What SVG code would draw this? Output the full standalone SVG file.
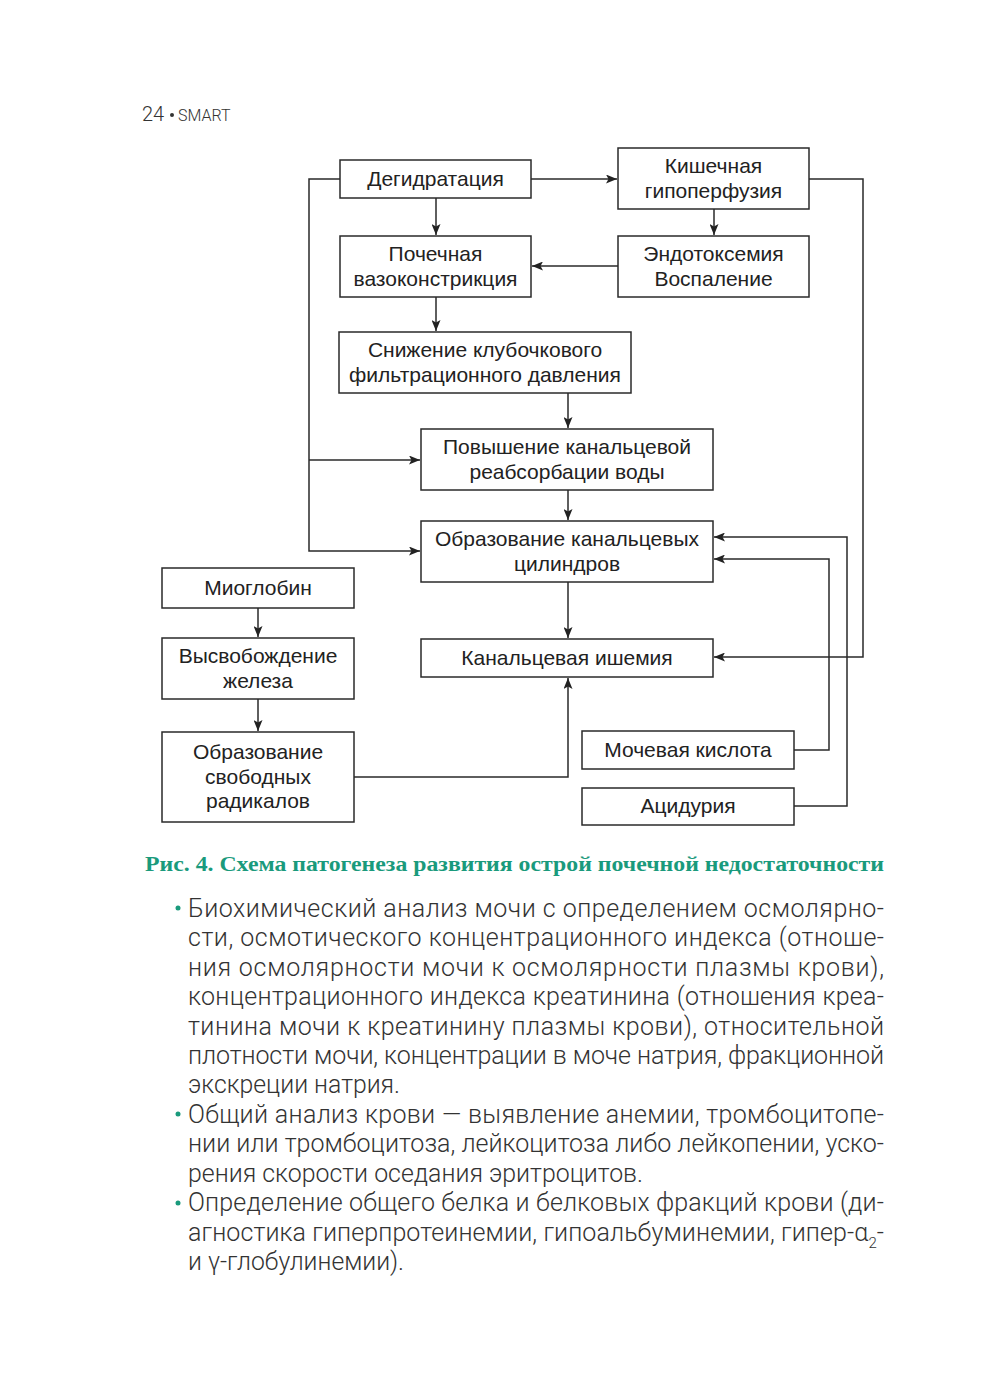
<svg xmlns="http://www.w3.org/2000/svg" width="1000" height="1393" viewBox="0 0 1000 1393">
<defs>
<marker id="ah" viewBox="0 0 11 9" refX="11" refY="4.5" markerWidth="11" markerHeight="9" markerUnits="userSpaceOnUse" orient="auto">
<path d="M0,0 L11,4.5 L0,9 L2.5,4.5 Z" fill="#222"/>
</marker>
</defs>
<style>
.box{fill:#fff;stroke:#2a2a2a;stroke-width:1.5}
.t{font-family:"Liberation Sans",Arial,sans-serif;font-size:21px;fill:#222;text-anchor:middle}
.c{fill:none;stroke:#2a2a2a;stroke-width:1.5}
.a{marker-end:url(#ah)}
.body{font-family:Roboto,"Noto Sans",sans-serif;font-weight:300;font-size:25px;fill:#333}
.bul{fill:#1a9a7c}
</style>
<rect width="1000" height="1393" fill="#fff"/>
<g id="header">
<text x="142" y="121" font-family="Roboto,sans-serif" font-weight="300" font-size="20" fill="#333">24</text>
<circle cx="172" cy="115" r="2" fill="#333"/>
<text x="178" y="121" font-family="Roboto,sans-serif" font-weight="300" font-size="16" fill="#333">SMART</text>
</g>
<g id="connectors">
<path class="c a" d="M531,179 H617"/>
<path class="c a" d="M436,198 V235"/>
<path class="c a" d="M714,209 V235"/>
<path class="c a" d="M618,266 H532"/>
<path class="c a" d="M436,297 V331"/>
<path class="c a" d="M568,393 V428"/>
<path class="c a" d="M568,490 V520"/>
<path class="c a" d="M568,582 V638"/>
<path class="c a" d="M340,179 H309 V551 H420"/>
<path class="c a" d="M309,460 H420"/>
<path class="c a" d="M809,179 H863 V657 H714"/>
<path class="c a" d="M794,806 H847 V537 H714"/>
<path class="c a" d="M794,750 H829 V559 H714"/>
<path class="c a" d="M258,608 V637"/>
<path class="c a" d="M258,699 V731"/>
<path class="c a" d="M354,777 H568 V678"/>
</g>
<g id="n1"><rect class="box" x="340" y="160" width="191" height="38"/><text class="t" x="435.5" y="186">Дегидратация</text></g>
<g id="n2"><rect class="box" x="618" y="148" width="191" height="61"/><text class="t" x="713.5" y="173">Кишечная</text><text class="t" x="713.5" y="198">гипоперфузия</text></g>
<g id="n3"><rect class="box" x="340" y="236" width="191" height="61"/><text class="t" x="435.5" y="261">Почечная</text><text class="t" x="435.5" y="286">вазоконстрикция</text></g>
<g id="n4"><rect class="box" x="618" y="236" width="191" height="61"/><text class="t" x="713.5" y="261">Эндотоксемия</text><text class="t" x="713.5" y="286">Воспаление</text></g>
<g id="n5"><rect class="box" x="339" y="332" width="292" height="61"/><text class="t" x="485" y="357">Снижение клубочкового</text><text class="t" x="485" y="382">фильтрационного давления</text></g>
<g id="n6"><rect class="box" x="421" y="429" width="292" height="61"/><text class="t" x="567" y="454">Повышение канальцевой</text><text class="t" x="567" y="479">реабсорбации воды</text></g>
<g id="n7"><rect class="box" x="421" y="521" width="292" height="61"/><text class="t" x="567" y="546">Образование канальцевых</text><text class="t" x="567" y="571">цилиндров</text></g>
<g id="n8"><rect class="box" x="162" y="568" width="192" height="40"/><text class="t" x="258" y="595">Миоглобин</text></g>
<g id="n9"><rect class="box" x="162" y="638" width="192" height="61"/><text class="t" x="258" y="663">Высвобождение</text><text class="t" x="258" y="688">железа</text></g>
<g id="n10"><rect class="box" x="421" y="639" width="292" height="38"/><text class="t" x="567" y="665">Канальцевая ишемия</text></g>
<g id="n11"><rect class="box" x="162" y="732" width="192" height="90"/><text class="t" x="258" y="759">Образование</text><text class="t" x="258" y="784">свободных</text><text class="t" x="258" y="808">радикалов</text></g>
<g id="n12"><rect class="box" x="582" y="731" width="212" height="38"/><text class="t" x="688" y="757">Мочевая кислота</text></g>
<g id="n13"><rect class="box" x="582" y="788" width="212" height="37"/><text class="t" x="688" y="813">Ацидурия</text></g>
<g id="caption">
<text x="145" y="871" font-family="'Liberation Serif','DejaVu Serif',serif" font-weight="bold" font-size="21" fill="#1a9a7c" textLength="739" lengthAdjust="spacingAndGlyphs">Рис. 4. Схема патогенеза развития острой почечной недостаточности</text>
</g>
<g id="bodytext">
<circle class="bul" cx="178" cy="908" r="2.5"/>
<circle class="bul" cx="178" cy="1114" r="2.5"/>
<circle class="bul" cx="178" cy="1203" r="2.5"/>
<text class="body" x="188" y="917" textLength="696" lengthAdjust="spacing">Биохимический анализ мочи с определением осмолярно-</text>
<text class="body" x="188" y="946" textLength="696" lengthAdjust="spacing">сти, осмотического концентрационного индекса (отноше-</text>
<text class="body" x="188" y="976" textLength="696" lengthAdjust="spacing">ния осмолярности мочи к осмолярности плазмы крови),</text>
<text class="body" x="188" y="1005" textLength="696" lengthAdjust="spacing">концентрационного индекса креатинина (отношения креа-</text>
<text class="body" x="188" y="1035" textLength="696" lengthAdjust="spacing">тинина мочи к креатинину плазмы крови), относительной</text>
<text class="body" x="188" y="1064" textLength="696" lengthAdjust="spacing">плотности мочи, концентрации в моче натрия, фракционной</text>
<text class="body" x="188" y="1093" textLength="212" lengthAdjust="spacingAndGlyphs">экскреции натрия.</text>
<text class="body" x="188" y="1123" textLength="696" lengthAdjust="spacing">Общий анализ крови — выявление анемии, тромбоцитопе-</text>
<text class="body" x="188" y="1152" textLength="696" lengthAdjust="spacing">нии или тромбоцитоза, лейкоцитоза либо лейкопении, уско-</text>
<text class="body" x="188" y="1182" textLength="455" lengthAdjust="spacingAndGlyphs">рения скорости оседания эритроцитов.</text>
<text class="body" x="188" y="1211" textLength="696" lengthAdjust="spacing">Определение общего белка и белковых фракций крови (ди-</text>
<text class="body" x="188" y="1241" textLength="696" lengthAdjust="spacing">агностика гиперпротеинемии, гипоальбуминемии, гипер-α<tspan font-size="15" dy="7">2</tspan><tspan dy="-7">-</tspan></text>
<text class="body" x="188" y="1270" textLength="216" lengthAdjust="spacingAndGlyphs">и γ-глобулинемии).</text>
</g>
</svg>
